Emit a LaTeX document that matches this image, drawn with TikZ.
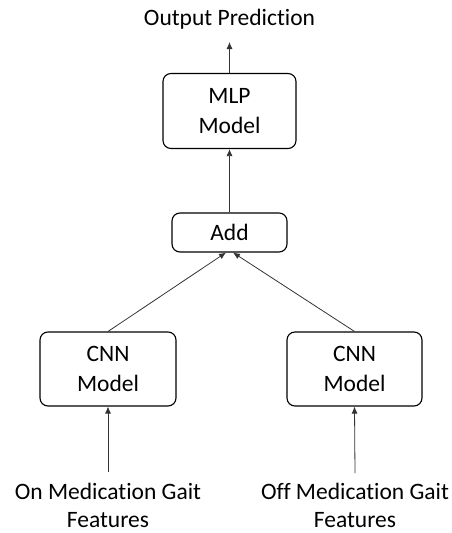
\documentclass[tikz,border=0pt]{standalone}
\usepackage{fontspec}
\setmainfont[Ligatures=NoCommon]{Carlito}
\usetikzlibrary{arrows.meta,calc}
\begin{document}
\begin{tikzpicture}[x=1pt,y=-1pt,
  box/.style={draw=black,line width=1.1pt,rounded corners=8pt,align=center,
    font=\fontsize{23.5}{29.5}\selectfont,inner sep=0pt},
  lbl/.style={align=center,font=\fontsize{23.5}{28}\selectfont,inner sep=0pt,anchor=base},
  conn/.style={draw=black!80,line width=0.8pt,-{Latex[length=7pt,width=6pt]}}]
\useasboundingbox (0,0) rectangle (451,533);
% model blocks
\node[box,minimum width=133pt,minimum height=75pt] (mlp) at (229.5,111) {MLP\\Model};
\node[box,minimum width=115pt,minimum height=39pt] (add) at (229.5,232.5) {Add};
\node[box,minimum width=136pt,minimum height=74pt] (lcnn) at (108,369) {CNN\\Model};
\node[box,minimum width=135pt,minimum height=74pt] (rcnn) at (354.5,369) {CNN\\Model};
% inputs and output (anchored on the last baseline)
\node[lbl] (out) at (229.5,25) {Output Prediction};
\coordinate (outtip) at (229.5,42);
\node[lbl] (lin) at (108,527) {On Medication Gait\\Features};
\node[lbl] (rin) at (355,527) {Off Medication Gait\\Features};
\coordinate (lstart) at (108,472);
\coordinate (rstart) at (355,473);
% connectors
\draw[conn] (lstart) -- (lcnn.south);
\draw[conn] (rstart) -- (rcnn.south);
\draw[conn] (lcnn.north) -- ($(add.south)+(-3.5,0)$);
\draw[conn] (rcnn.north) -- ($(add.south)+(3.5,0)$);
\draw[conn] (add.north) -- (mlp.south);
\draw[conn] (mlp.north) -- (outtip);
\end{tikzpicture}
\end{document}
